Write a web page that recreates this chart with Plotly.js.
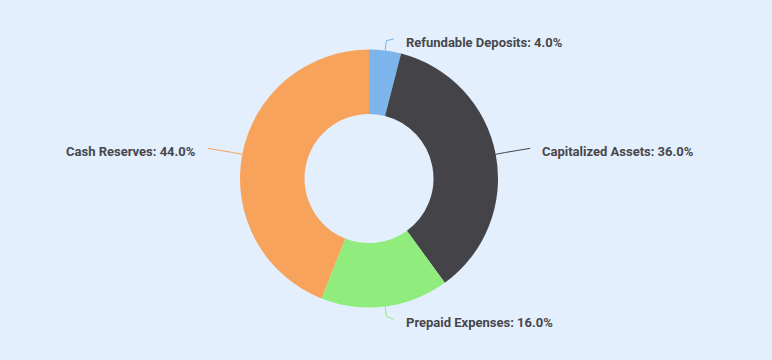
<!DOCTYPE html>
<html>
<head>
<meta charset="utf-8">
<script src="https://cdn.plot.ly/plotly-3.0.1.min.js"></script>
<style>html,body{margin:0;padding:0;background:#e3effd;}#chart{width:772px;height:360px;}</style>
</head>
<body>
<div id="chart"></div>
<script>
const categories = ["Refundable Deposits", "Capitalized Assets", "Prepaid Expenses", "Cash Reserves"];
const shares = [4, 36, 16, 44];
const sliceColors = ["#7cb5ec", "#434348", "#90ed7d", "#f7a35c"];

const W = 772, H = 360;
const cx = 369, cy = 178.5, R = 129;
const bg = "#e3effd";

const total = shares.reduce((a, b) => a + b, 0);
const shapes = [], annotations = [];
let acc = 0;
const px = x => x / W, py = y => 1 - y / H;
shares.forEach((v, i) => {
  const mid = (acc + v / 2) / total * 2 * Math.PI;
  acc += v;
  const s = Math.sin(mid), c = Math.cos(mid);
  const sign = s >= 0 ? 1 : -1;
  const Px = cx + R * s, Py = cy - R * c;
  const Bx = cx + (R + 10) * s, By = cy - (R + 10) * c;
  let Ly = cy - (R + 16) * c;
  if (Ly < 42) Ly = 42;
  const textX = Px + sign * (15 + 30 * Math.abs(s));
  const endX = textX - sign * 10;
  const lineY = Ly - 3;
  shapes.push({
    type: "path", xref: "paper", yref: "paper",
    path: `M ${px(endX)},${py(lineY)} L ${px(Bx)},${py(By)} L ${px(Px)},${py(Py)}`,
    line: {color: sliceColors[i], width: 1}
  });
  annotations.push({
    xref: "paper", yref: "paper", x: px(textX), y: py(Ly),
    xanchor: sign > 0 ? "left" : "right", yanchor: "middle",
    showarrow: false,
    text: categories[i] + ": " + (v / total * 100).toFixed(1) + "%",
    font: {family: "Roboto", size: 13, color: "#47474c", weight: 700}
  });
});

const trace = {
  type: "pie",
  labels: categories,
  values: shares,
  marker: {colors: sliceColors, line: {width: 0}},
  hole: 0.5,
  sort: false,
  direction: "clockwise",
  rotation: 0,
  textinfo: "none",
  hoverinfo: "none",
  showlegend: false,
  domain: {x: [(cx - R) / W, (cx + R) / W], y: [(H - cy - R) / H, (H - cy + R) / H]}
};

Plotly.newPlot("chart", [trace], {
  width: W, height: H,
  margin: {l: 0, r: 0, t: 0, b: 0},
  paper_bgcolor: bg, plot_bgcolor: bg,
  showlegend: false,
  shapes: shapes,
  annotations: annotations
}, {staticPlot: true});
</script>
</body>
</html>
